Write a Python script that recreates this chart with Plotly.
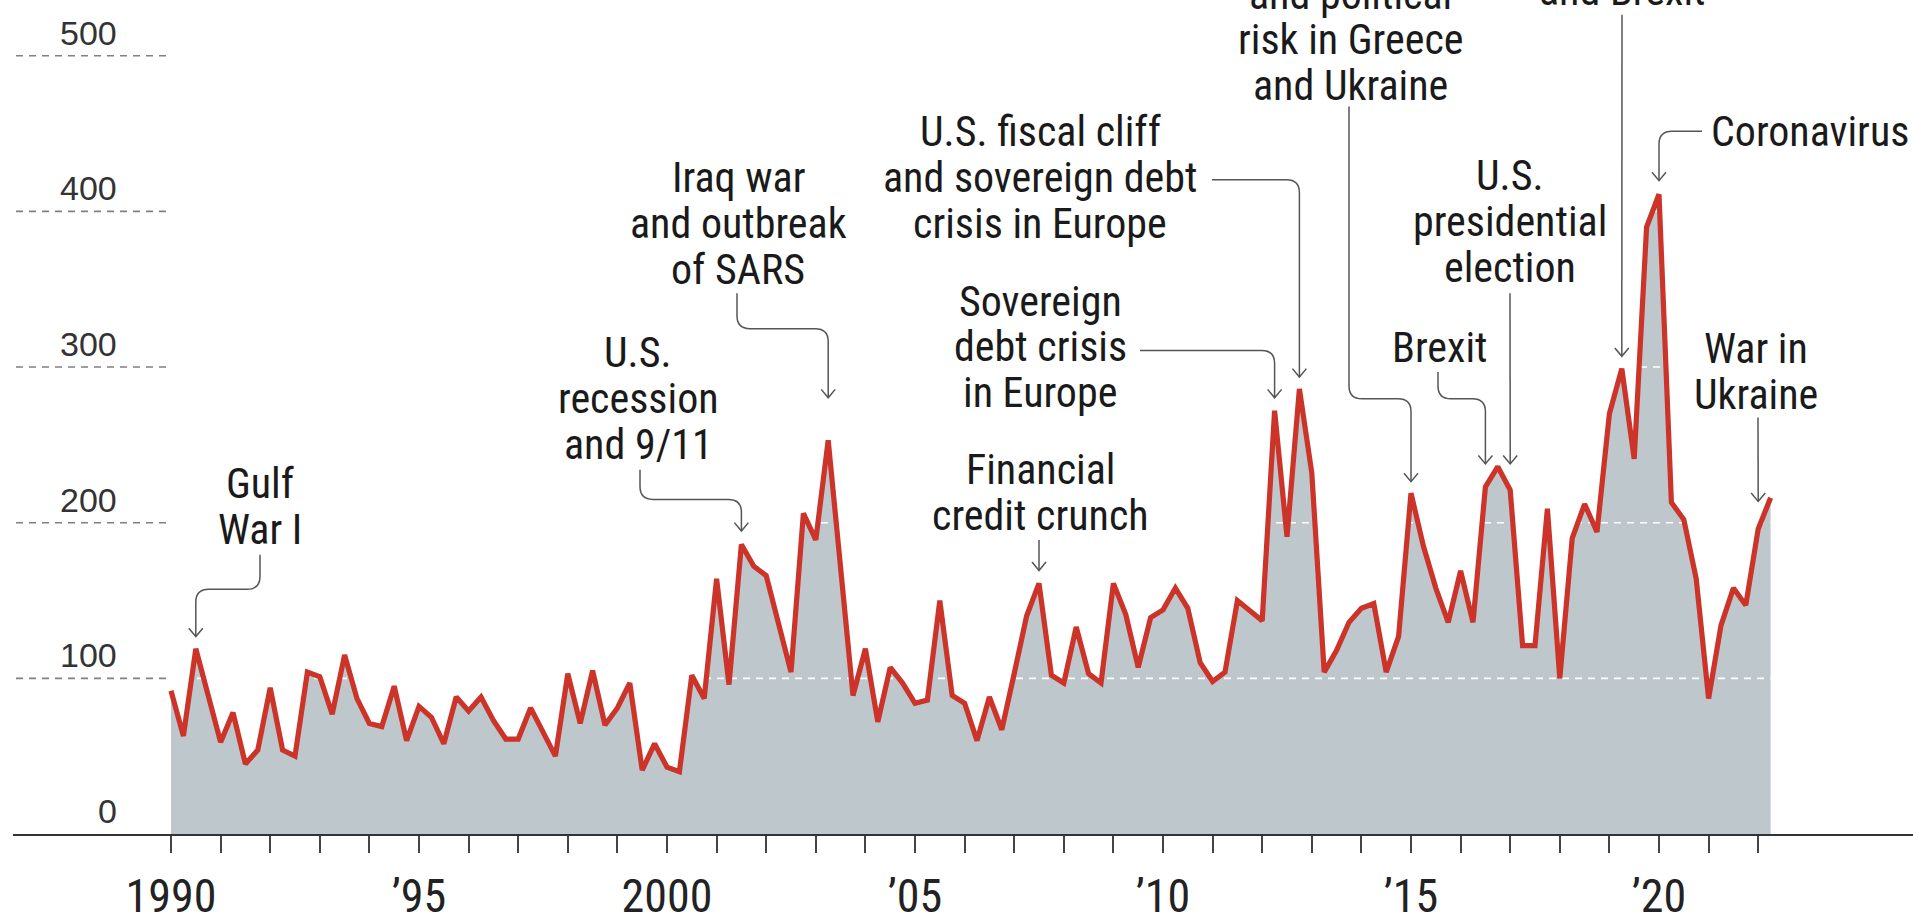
import plotly.graph_objects as go

# ---------------- data (quarterly, 1990Q1 .. 2022Q2) ----------------
START_YEAR = 1990
VALUES = [
    92, 63, 119, 90,     # 1990
    59, 78, 45, 54,      # 1991
    94, 54, 50, 104,     # 1992
    101, 77, 115, 87,    # 1993
    71, 69, 95, 60,      # 1994
    82, 75, 58, 88,      # 1995
    79, 88, 73, 61,      # 1996
    61, 81, 66, 50,      # 1997
    103, 71, 105, 70,    # 1998
    81, 97, 41, 58,      # 1999
    43, 40, 102, 87,     # 2000
    164, 96, 186, 172,   # 2001
    166, 134, 104, 206,  # 2002
    189, 253, 172, 89,   # 2003
    119, 72, 107, 97,    # 2004
    84, 86, 150, 89,     # 2005
    84, 60, 88, 67,      # 2006
    103, 140, 161, 102,  # 2007
    97, 133, 103, 97,    # 2008
    161, 141, 107, 139,  # 2009
    144, 158, 145, 110,  # 2010
    98, 104, 150, 143,   # 2011
    137, 272, 191, 286,  # 2012
    232, 104, 118, 136,  # 2013
    145, 148, 104, 127,  # 2014
    219, 185, 158, 136,  # 2015
    169, 136, 223, 236,  # 2016
    221, 121, 121, 209,  # 2017
    100, 190, 212, 194,  # 2018
    270, 299, 241, 390,  # 2019
    411, 213, 202, 164,  # 2020
    87, 134, 158, 147,   # 2021
    196, 216,            # 2022
]
QUARTERS = [START_YEAR + i / 4 for i in range(len(VALUES))]

Y_TICKS = [0, 100, 200, 300, 400, 500]
X_TICK_YEARS = list(range(1990, 2023))
X_TICK_LABELS = {1990: "1990", 1995: "\u201995", 2000: "2000", 2005: "\u201905",
                 2010: "\u201910", 2015: "\u201915", 2020: "\u201920"}

# annotation texts and the quarter each one points at
EVENTS = [
    (["Gulf", "War I"], 1990.5),
    (["U.S.", "recession", "and 9/11"], 2001.5),
    (["Iraq war", "and outbreak", "of SARS"], 2003.25),
    (["U.S. fiscal cliff", "and sovereign debt", "crisis in Europe"], 2012.75),
    (["Sovereign", "debt crisis", "in Europe"], 2012.25),
    (["Financial", "credit crunch"], 2007.5),
    (["and political", "risk in Greece", "and Ukraine"], 2015.0),
    (["Brexit"], 2016.5),
    (["U.S.", "presidential", "election"], 2017.0),
    (["and Brexit"], 2019.25),
    (["Coronavirus"], 2020.0),
    (["War in", "Ukraine"], 2022.0),
]

# ---------------- layout geometry (pixels) ----------------
W, H = 1913, 923
ML, MB = 13, 78
PX_1990 = 171.0
PX_PER_YEAR = 49.6
PX_ZERO = 845.0
PX_PER_UNIT = 1.577


def xd(px):
    return 1990 + (px - PX_1990) / PX_PER_YEAR


def yd(py):
    return (PX_ZERO - py) / PX_PER_UNIT


def xp(x):
    return PX_1990 + (x - 1990) * PX_PER_YEAR


def yp(v):
    return PX_ZERO - v * PX_PER_UNIT


def xpaper(px):
    return (px - ML) / (W - ML)


def ypaper(py):
    return (PX_ZERO - py) / PX_ZERO


FILL = "#bdc7cc"
RED = "#cc3329"
TXT = "#1a1a1a"
CONN = "#555555"
NARROW = "Liberation Sans Narrow, Arial Narrow, Roboto Condensed, sans-serif"
REG = "Liberation Sans, Arial, sans-serif"
ANN_SIZE = 42
LINE_GAP = 46.5

# label placement: (center x px, first line y px, anchor, connector waypoints before tip, tip y px)
PLACE = [
    (260, 490, "center", [(260, 562), (260, 597)], 645),
    (638, 357, "center", [(640, 476), (640, 506)], 538),
    (738, 180, "center", [(737, 297), (737, 333)], 403),
    (1040, 133, "center", [(1212, 182)], 382),
    (1040, 305, "center", [(1140, 355)], 403),
    (1040, 476, "center", [(1039, 547)], 578),
    (1350, -6, "center", [(1349, 108), (1349, 404)], 488),
    (1440, 352, "center", [(1438, 377), (1438, 404)], 470),
    (1510, 178, "center", [(1510, 297)], 470),
    (1622, -10, "center", [(1622, 15)], 361),
    (1709, 133, "left", [(1702, 133)], 183),
    (1756, 353, "center", [(1758, 423)], 508),
]


def rounded_path(pts, r=12):
    def P(p):
        return f"{xd(p[0]):.5f},{yd(p[1]):.5f}"
    d = "M " + P(pts[0])
    for i in range(1, len(pts) - 1):
        px_, py_ = pts[i - 1]
        cx, cy = pts[i]
        nx, ny = pts[i + 1]
        l1 = max(((cx - px_) ** 2 + (cy - py_) ** 2) ** 0.5, 1e-6)
        l2 = max(((nx - cx) ** 2 + (ny - cy) ** 2) ** 0.5, 1e-6)
        rr = min(r, l1 / 2, l2 / 2)
        a = (cx - (cx - px_) / l1 * rr, cy - (cy - py_) / l1 * rr)
        b = (cx + (nx - cx) / l2 * rr, cy + (ny - cy) / l2 * rr)
        d += " L " + P(a) + " Q " + P((cx, cy)) + " " + P(b)
    d += " L " + P(pts[-1])
    return d


fig = go.Figure()

# filled area
fig.add_trace(go.Scatter(x=QUARTERS, y=VALUES, mode="lines", fill="tozeroy",
                         fillcolor=FILL, line=dict(width=0), hoverinfo="skip"))

# gridlines: white dashed over the area, grey dashed in the left margin
for v in Y_TICKS[1:]:
    fig.add_trace(go.Scatter(x=[START_YEAR, QUARTERS[-1]], y=[v, v], mode="lines",
                             line=dict(color="white", width=1.6, dash="7px,6px"),
                             hoverinfo="skip"))
    fig.add_trace(go.Scatter(x=[xd(16), START_YEAR], y=[v, v], mode="lines",
                             line=dict(color="#808080", width=1.6, dash="7px,6px"),
                             hoverinfo="skip"))

# red line
fig.add_trace(go.Scatter(x=QUARTERS, y=VALUES, mode="lines",
                         line=dict(color=RED, width=5.2), hoverinfo="skip"))

annotations = []
shapes = []

# y tick labels
for v in Y_TICKS:
    annotations.append(dict(x=xpaper(119), y=ypaper(yp(v) - 23.5), xref="paper", yref="paper",
                            text=str(v), showarrow=False, xanchor="right", yanchor="middle",
                            font=dict(family=REG, size=34, color="#333333")))

# event labels and connectors
for (lines, target), (cx, y0, anchor, way, tip_y) in zip(EVENTS, PLACE):
    for k, line in enumerate(lines):
        annotations.append(dict(x=xpaper(cx), y=ypaper(y0 + k * LINE_GAP),
                                xref="paper", yref="paper",
                                text=line, showarrow=False, xanchor=anchor, yanchor="middle",
                                font=dict(family=NARROW, size=ANN_SIZE, color=TXT)))
    tx = xp(target)
    pts = list(way)
    last = pts[-1]
    if abs(last[0] - tx) > 0.5:
        pts.append((tx, last[1]))
    pts.append((tx, tip_y))
    shapes.append(dict(type="path", xref="x", yref="y", path=rounded_path(pts, 13),
                       line=dict(color=CONN, width=1.5), layer="above"))
    head = (f"M {xd(tx - 7):.5f},{yd(tip_y - 8.5):.5f} L {xd(tx):.5f},{yd(tip_y):.5f} "
            f"L {xd(tx + 7):.5f},{yd(tip_y - 8.5):.5f}")
    shapes.append(dict(type="path", xref="x", yref="y", path=head,
                       line=dict(color=CONN, width=1.5), layer="above"))

fig.update_layout(
    width=W, height=H,
    margin=dict(l=ML, r=0, t=0, b=MB, pad=0),
    plot_bgcolor="white", paper_bgcolor="white",
    showlegend=False,
    annotations=annotations,
    shapes=shapes,
    xaxis=dict(range=[xd(ML), xd(W)], showgrid=False, zeroline=False,
               showline=True, linecolor="#333333", linewidth=2,
               ticks="outside", ticklen=17, tickwidth=2, tickcolor="#444444",
               tickvals=X_TICK_YEARS,
               ticktext=[X_TICK_LABELS.get(y, "") for y in X_TICK_YEARS],
               tickfont=dict(family=NARROW, size=46, color="#222222"),
               ticklabelstandoff=4, fixedrange=True),
    yaxis=dict(range=[0, yd(0)], showgrid=False, zeroline=False, showline=False,
               showticklabels=False, ticks="", fixedrange=True),
)

fig.write_html("out.html", include_plotlyjs=True, full_html=True,
               config=dict(displayModeBar=False, staticPlot=True),
               post_script="document.body.style.margin='0';document.body.style.overflow='hidden';")
